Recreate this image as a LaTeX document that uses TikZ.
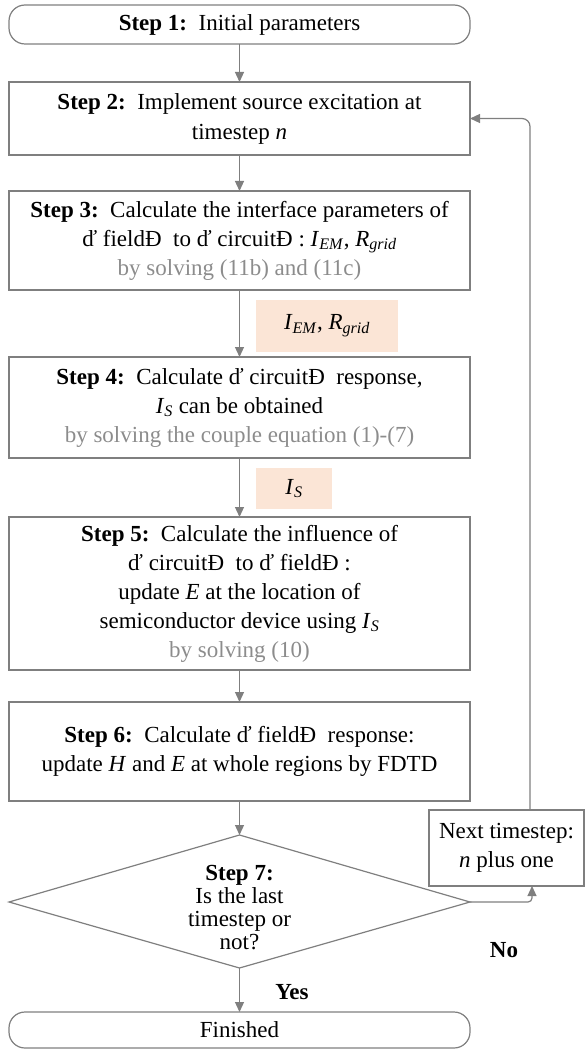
\documentclass[tikz,border=0pt]{standalone}
\usepackage{fontspec}
\setmainfont{Liberation Serif}
\usetikzlibrary{arrows.meta}
\definecolor{ln}{HTML}{7F7F7F}
\definecolor{gtxt}{HTML}{8C8C8C}
\definecolor{peach}{HTML}{FBE5D6}
\newcommand\isub[2]{\textit{#1}\textsubscript{\textit{#2}}}
\begin{document}
\begin{tikzpicture}[x=1pt,y=-1pt,
  every node/.style={font=\fontsize{23}{29}\selectfont, text=black, inner sep=0pt, outer sep=0pt},
  box/.style={draw=ln, line width=1.2pt, minimum width=461pt, align=center},
  term/.style={box, rounded corners=16pt},
  lab/.style={fill=peach, align=center},
  arr/.style={draw=ln, line width=1.2pt, -{Triangle[length=10pt,width=9pt]}}]
\useasboundingbox (0,0) rectangle (585,1051);
% nodes
\node[term, minimum height=39pt] (s1) at (239.5,24.5) {\textbf{Step 1:}\ \ Initial parameters};
\node[box, minimum height=73pt] (s2) at (239.5,118.5) {\textbf{Step 2:}\ \ Implement source excitation at\\[1pt] timestep \textit{n}};
\node[box, minimum height=99pt] (s3) at (239.5,240.5) {\textbf{Step 3:}\ \ Calculate the interface parameters of\\ ď fieldÐ\ \ to ď circuitÐ : \isub{I}{EM}, \isub{R}{grid}\\ \textcolor{gtxt}{by solving (11b) and (11c)}};
\node[lab, minimum width=142pt, minimum height=52pt] (l1) at (327,326) {\isub{I}{EM}, \isub{R}{grid}};
\node[box, minimum height=101pt] (s4) at (239.5,407.5) {\textbf{Step 4:}\ \ Calculate ď circuitÐ\ \ response,\\ \isub{I}{S} can be obtained\\ \textcolor{gtxt}{by solving the couple equation (1)-(7)}};
\node[lab, minimum width=76pt, minimum height=41pt] (l2) at (294,488.5) {\isub{I}{S}};
\node[box, minimum height=153pt] (s5) at (239.5,593.5) {\textbf{Step 5:}\ \ Calculate the influence of\\ ď circuitÐ\ \ to ď fieldÐ :\\ update \textit{E} at the location of\\ semiconductor device using \isub{I}{S}\\ \textcolor{gtxt}{by solving (10)}};
\node[box, minimum height=99pt] (s6) at (239.5,751.5) {\textbf{Step 6:}\ \ Calculate ď fieldÐ\ \ response:\\ update \textit{H} and \textit{E} at whole regions by FDTD};
% decision
\coordinate (dtop) at (239.5,835);
\coordinate (dright) at (470,902);
\coordinate (dbot) at (239.5,968);
\coordinate (dleft) at (9,902);
\draw[ln, line width=1.2pt] (dtop) -- (dright) -- (dbot) -- (dleft) -- cycle;
\node[align=center, font=\fontsize{23}{23}\selectfont] (s7) at (239.5,907.5) {\textbf{Step 7:}\\ Is the last\\ timestep or\\ not?};
\node[box, minimum width=155pt, minimum height=76pt] (nx) at (506.5,848) {Next timestep:\\ \textit{n} plus one};
\node[term, minimum height=36pt] (fin) at (239.5,1030) {Finished};
\node[font=\fontsize{23}{29}\selectfont\bfseries] (yes) at (292,992) {Yes};
\node[font=\fontsize{23}{29}\selectfont\bfseries] (no) at (504,950) {No};
% connectors
\draw[arr] (s1.south) -- (s2.north);
\draw[arr] (s2.south) -- (s3.north);
\draw[arr] (s3.south) -- (s4.north);
\draw[arr] (s4.south) -- (s5.north);
\draw[arr] (s5.south) -- (s6.north);
\draw[arr] (s6.south) -- (dtop);
\draw[arr] (dbot) -- (fin.north);
\coordinate (c1) at (532,902);
\draw[arr, rounded corners=4pt] (dright) -- (c1) -- (c1 |- nx.south);
\coordinate (c2) at (530,118.5);
\draw[arr, rounded corners=8pt] (c2 |- nx.north) -- (c2) -- (s2.east);
\end{tikzpicture}
\end{document}
